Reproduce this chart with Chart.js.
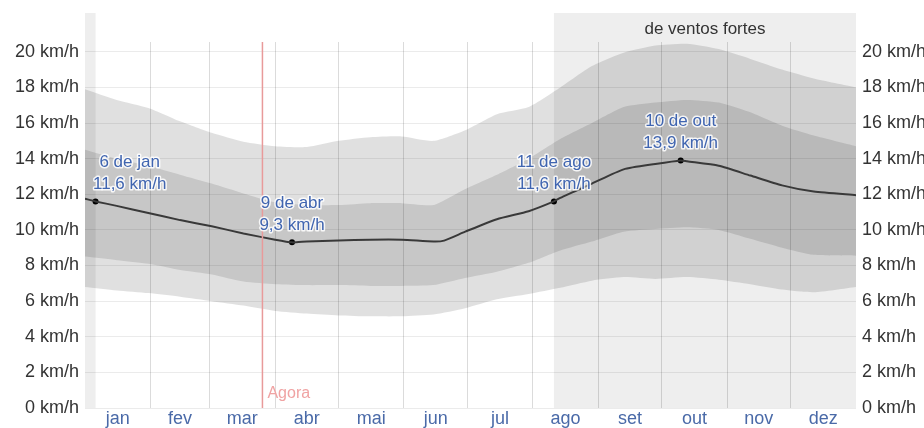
<!DOCTYPE html>
<html>
<head>
<meta charset="utf-8">
<script src="https://cdn.jsdelivr.net/npm/chart.js@4.4.1/dist/chart.umd.min.js"></script>
<style>
body { margin: 0; background: #fff; }
#wrap { width: 924px; height: 428px; }
</style>
</head>
<body>
<div id="wrap"><canvas id="myChart"></canvas></div>
<script>
var months = ['jan', 'fev', 'mar', 'abr', 'mai', 'jun', 'jul', 'ago', 'set', 'out', 'nov', 'dez'];
var monthStarts = [0, 31, 59, 90, 120, 151, 181, 212, 243, 273, 304, 334, 365];
var yTicks = [0, 2, 4, 6, 8, 10, 12, 14, 16, 18, 20];

// day of year -> wind speed percentiles (km/h)
var bandDays = [0, 15, 30, 45, 60, 75, 90, 105, 120, 135, 150, 165, 180, 195, 210, 225, 240, 255, 270, 285, 300, 315, 330, 345, 365];
var p10 = [6.8, 6.6, 6.45, 6.25, 6.0, 5.75, 5.45, 5.3, 5.2, 5.15, 5.15, 5.25, 5.6, 6.1, 6.4, 6.75, 7.15, 7.35, 7.25, 7.35, 7.2, 6.95, 6.65, 6.5, 6.8];
var p25 = [8.5, 8.3, 8.1, 7.75, 7.5, 7.1, 6.95, 6.9, 6.9, 6.85, 6.85, 6.9, 7.3, 7.65, 8.15, 8.85, 9.35, 9.9, 10.05, 10.15, 10.0, 9.5, 9.0, 8.6, 8.55];
var p75 = [14.5, 14.0, 13.6, 13.1, 12.6, 12.05, 11.55, 11.4, 11.4, 11.5, 11.5, 11.4, 12.3, 13.1, 14.0, 15.1, 16.0, 16.9, 17.15, 17.3, 17.15, 16.6, 15.85, 15.3, 14.7];
var p90 = [17.9, 17.3, 16.85, 16.1, 15.45, 14.95, 14.7, 14.65, 15.0, 15.2, 15.25, 15.0, 15.6, 16.5, 16.9, 18.0, 19.2, 19.95, 20.35, 20.45, 20.15, 19.6, 19.0, 18.5, 18.0];

var meanDays = [0, 5, 15, 30, 45, 60, 75, 90, 98, 105, 120, 135, 150, 165, 170, 180, 195, 210, 222, 225, 240, 255, 270, 282, 285, 300, 315, 330, 345, 365];
var meanKmh = [11.75, 11.6, 11.35, 10.95, 10.55, 10.2, 9.8, 9.45, 9.3, 9.35, 9.4, 9.45, 9.45, 9.35, 9.4, 9.9, 10.6, 11.05, 11.6, 11.8, 12.6, 13.4, 13.7, 13.9, 13.85, 13.6, 13.05, 12.5, 12.15, 11.95];

var markerDays = [5, 98, 222, 282];
var markerKmh = [11.6, 9.3, 11.6, 13.9];
var markerDates = ['6 de jan', '9 de abr', '11 de ago', '10 de out'];

var windyStart = 222, windyEnd = 5;
var nowDay = 84;

var monthMids = months.map(function(m, i) { return (monthStarts[i] + monthStarts[i + 1]) / 2; });
var FONT = '"Liberation Sans", Arial, sans-serif';

function pts(xs, ys) {
    return xs.map(function(d, i) { return { x: d, y: ys[i] }; });
}
function kmh(v) {
    return v.toFixed(1).replace('.', ',') + ' km/h';
}

var extras = {
    id: 'extras',
    beforeDraw: function(chart) {
        var ctx = chart.ctx, x = chart.scales.x, area = chart.chartArea;
        var top = area.top - 29;
        ctx.save();
        ctx.fillStyle = '#eeeeee';
        var a = x.getPixelForValue(windyStart), b = x.getPixelForValue(365);
        ctx.fillRect(a, top, b - a, area.bottom - top);
        var c = x.getPixelForValue(0), d = x.getPixelForValue(windyEnd);
        ctx.fillRect(c, top, d - c, area.bottom - top);
        ctx.fillStyle = '#333';
        ctx.font = '17px ' + FONT;
        ctx.textAlign = 'center';
        ctx.textBaseline = 'middle';
        ctx.fillText('de ventos fortes', (a + b) / 2, top + 16);
        ctx.restore();
    },
    afterDatasetsDraw: function(chart) {
        var ctx = chart.ctx, x = chart.scales.x, y = chart.scales.y, area = chart.chartArea;
        ctx.save();
        // "Agora" line
        var nx = x.getPixelForValue(nowDay);
        ctx.strokeStyle = '#e89a9a';
        ctx.lineWidth = 1.5;
        ctx.beginPath();
        ctx.moveTo(nx, area.top);
        ctx.lineTo(nx, area.bottom);
        ctx.stroke();
        ctx.fillStyle = '#f0a3a3';
        ctx.font = '16px ' + FONT;
        ctx.textAlign = 'left';
        ctx.textBaseline = 'middle';
        ctx.fillText('Agora', nx + 5, area.bottom - 14);

        // marker labels
        ctx.font = '17px ' + FONT;
        ctx.textAlign = 'center';
        ctx.lineJoin = 'round';
        markerDays.forEach(function(d, i) {
            var px = x.getPixelForValue(d), py = y.getPixelForValue(markerKmh[i]);
            var l1 = markerDates[i], l2 = kmh(markerKmh[i]);
            var w = Math.max(ctx.measureText(l1).width, ctx.measureText(l2).width);
            var cx = Math.max(px, area.left + w / 2 + 8);
            [[l1, py - 39], [l2, py - 17]].forEach(function(t) {
                ctx.strokeStyle = 'rgba(255,255,255,0.85)';
                ctx.lineWidth = 3;
                ctx.strokeText(t[0], cx, t[1]);
                ctx.fillStyle = '#4065b0';
                ctx.fillText(t[0], cx, t[1]);
            });
        });
        ctx.restore();
    }
};

var ctx = document.getElementById('myChart').getContext('2d');
var myChart = new Chart(ctx, {
    type: 'line',
    data: {
        datasets: [{
            data: pts(bandDays, p90),
            borderWidth: 0,
            pointRadius: 0,
            fill: '+1',
            backgroundColor: 'rgba(0,0,0,0.12)',
            tension: 0.2
        }, {
            data: pts(bandDays, p10),
            borderWidth: 0,
            pointRadius: 0,
            fill: false,
            tension: 0.2
        }, {
            data: pts(bandDays, p75),
            borderWidth: 0,
            pointRadius: 0,
            fill: '+1',
            backgroundColor: 'rgba(0,0,0,0.115)',
            tension: 0.2
        }, {
            data: pts(bandDays, p25),
            borderWidth: 0,
            pointRadius: 0,
            fill: false,
            tension: 0.2
        }, {
            data: pts(meanDays, meanKmh),
            borderColor: '#4a4a4a',
            borderWidth: 2,
            pointRadius: 0,
            fill: false,
            tension: 0.2
        }, {
            data: pts(markerDays, markerKmh),
            showLine: false,
            pointRadius: 3,
            pointBackgroundColor: '#000',
            pointBorderWidth: 0
        }]
    },
    options: {
        responsive: true,
        maintainAspectRatio: false,
        animation: false,
        layout: { padding: { top: 42, left: 0, right: 0, bottom: 0 } },
        plugins: {
            legend: { display: false },
            tooltip: { enabled: false }
        },
        scales: {
            x: {
                type: 'linear',
                min: 0,
                max: 365,
                afterBuildTicks: function(axis) {
                    axis.ticks = monthMids.map(function(v) { return { value: v }; });
                },
                ticks: {
                    autoSkip: false,
                    maxRotation: 0,
                    padding: 0,
                    color: '#4a6aa8',
                    font: { family: FONT, size: 18 },
                    callback: function(v) { return months[monthMids.indexOf(v)]; }
                },
                grid: { display: false, drawTicks: false },
                border: { display: false },
                afterFit: function(s) { s.height = 20; }
            },
            xg: {
                type: 'linear',
                position: 'bottom',
                min: 0,
                max: 365,
                afterBuildTicks: function(axis) {
                    axis.ticks = monthStarts.map(function(v) { return { value: v }; });
                },
                ticks: { display: false },
                grid: {
                    color: function(c) {
                        return (c.tick && (c.tick.value === 0 || c.tick.value === 365)) ? 'rgba(0,0,0,0)' : 'rgba(0,0,0,0.14)';
                    },
                    drawTicks: false
                },
                border: { display: false },
                afterFit: function(s) { s.height = 0; }
            },
            y: {
                position: 'left',
                min: 0,
                max: 20.55,
                afterBuildTicks: function(axis) {
                    axis.ticks = yTicks.map(function(v) { return { value: v }; });
                },
                ticks: {
                    padding: 6,
                    color: '#333',
                    font: { family: FONT, size: 18 },
                    callback: function(v) { return v + ' km/h'; }
                },
                grid: { color: 'rgba(0,0,0,0.08)', drawTicks: false },
                border: { display: false },
                afterFit: function(s) { s.width = 85; }
            },
            y2: {
                position: 'right',
                min: 0,
                max: 20.55,
                afterBuildTicks: function(axis) {
                    axis.ticks = yTicks.map(function(v) { return { value: v }; });
                },
                ticks: {
                    padding: 6,
                    color: '#333',
                    font: { family: FONT, size: 18 },
                    callback: function(v) { return v + ' km/h'; }
                },
                grid: { display: false, drawTicks: false },
                border: { display: false },
                afterFit: function(s) { s.width = 68; }
            }
        }
    },
    plugins: [extras]
});
</script>
</body>
</html>
